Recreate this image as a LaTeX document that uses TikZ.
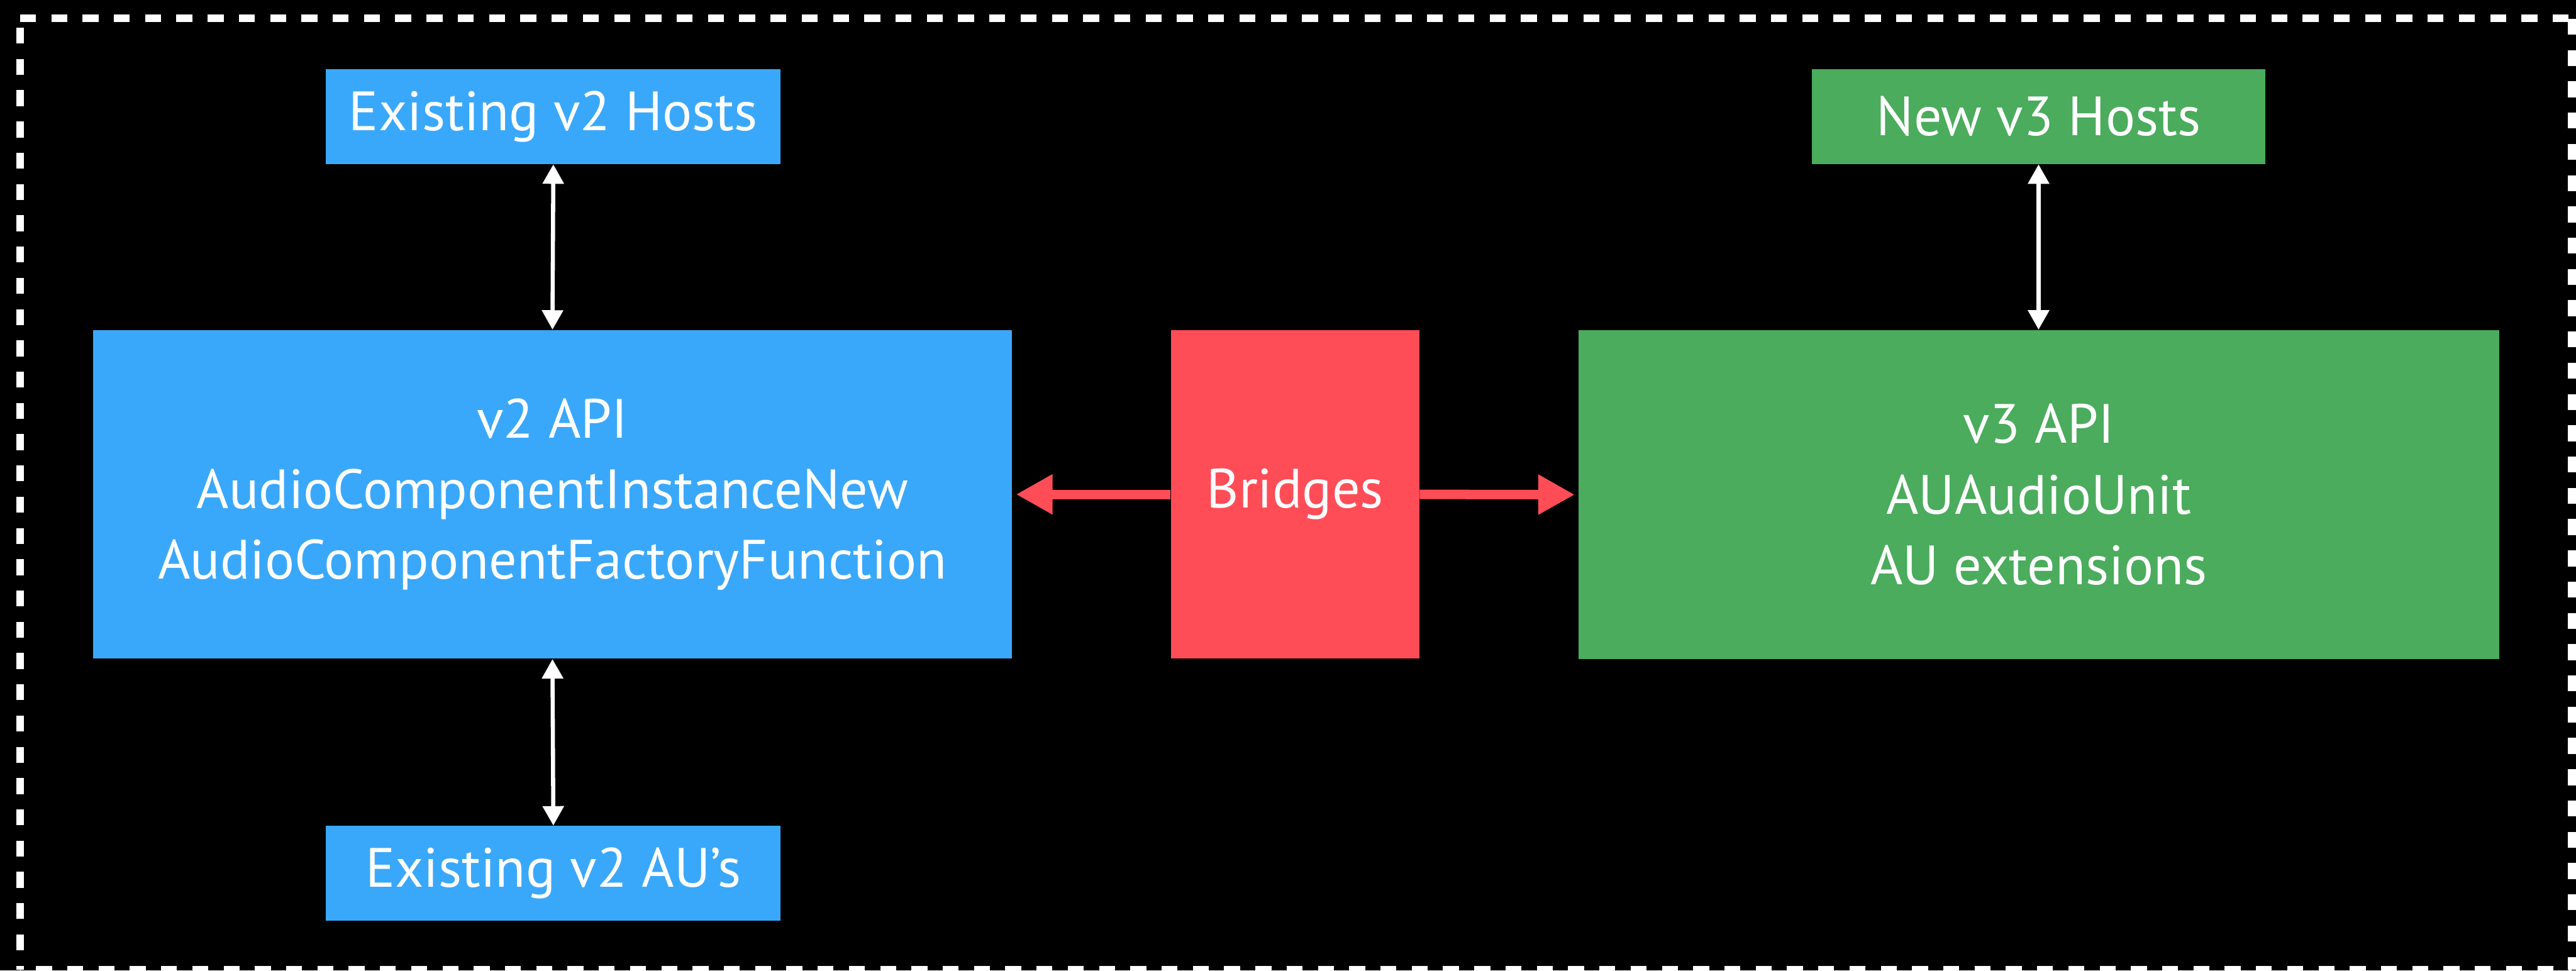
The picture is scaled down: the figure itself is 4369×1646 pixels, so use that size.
\documentclass[tikz,border=0pt]{standalone}
\usepackage{fontspec}
\setmainfont{PT Sans}
\usetikzlibrary{arrows.meta}
\definecolor{boxblue}{RGB}{58,168,250}
\definecolor{boxgreen}{RGB}{74,172,92}
\definecolor{boxred}{RGB}{255,77,87}
\tikzset{
  box/.style={rectangle, inner sep=0pt, text=white, align=center,
    font=\fontsize{26.7pt}{34.1pt}\selectfont},
  bluebox/.style={box, fill=boxblue},
  greenbox/.style={box, fill=boxgreen},
  redbox/.style={box, fill=boxred},
  whitearrow/.style={draw=white, line width=0.07cm,
    {Triangle[width=0.35cm,length=0.33cm]}-{Triangle[width=0.35cm,length=0.33cm]}},
  redarrow/.style={draw=boxred, line width=0.16cm,
    -{Triangle[width=0.64cm,length=0.62cm]}, shorten >=0.06cm},
  border/.style={draw=white, line width=0.135cm, dash pattern=on 0.27cm off 0.26cm}
}
\begin{document}
\begin{tikzpicture}[x=0.01cm, y=-0.01cm]
  \useasboundingbox (0,0) rectangle (4369,1646);
  \fill[black] (0,0) rectangle (4369,1646);
  % dashed frame
  \draw[border] (34,31) -- (4362,31);
  \draw[border] (34,47) -- (34,1645);
  \draw[border] (4362,32) -- (4362,1645);
  \draw[border, dash phase=0.26cm] (34,1645) -- (4362,1645);
  % boxes
  \node[bluebox, minimum width=7.71cm, minimum height=1.61cm] (h2) at (938.5,197.5) {Existing v2 Hosts};
  \node[bluebox, minimum width=15.58cm, minimum height=5.57cm] (api2) at (937,838.5)
    {v2 API\\AudioComponentInstanceNew\\AudioComponentFactoryFunction};
  \node[bluebox, minimum width=7.71cm, minimum height=1.60cm] (au2) at (938.5,1481) {Existing v2 AU’s};
  \node[redbox, minimum width=4.21cm, minimum height=5.57cm] (br) at (2196.5,838.5) {Bridges};
  \node[greenbox, minimum width=15.60cm, minimum height=5.58cm] (api3) at (3458,839)
    {v3 API\\AUAudioUnit\\AU extensions};
  \node[greenbox, minimum width=7.69cm, minimum height=1.61cm] (h3) at (3457.5,197.5) {New v3 Hosts};
  % connectors
  \draw[whitearrow] (h2.south) -- (api2.north);
  \draw[whitearrow] (api2.south) -- (au2.north);
  \draw[whitearrow] (h3.south) -- (h3.south |- api3.north);
  \draw[redarrow] (br.west) -- (api2.east);
  \draw[redarrow] (br.east) -- (api3.west);
\end{tikzpicture}
\end{document}
